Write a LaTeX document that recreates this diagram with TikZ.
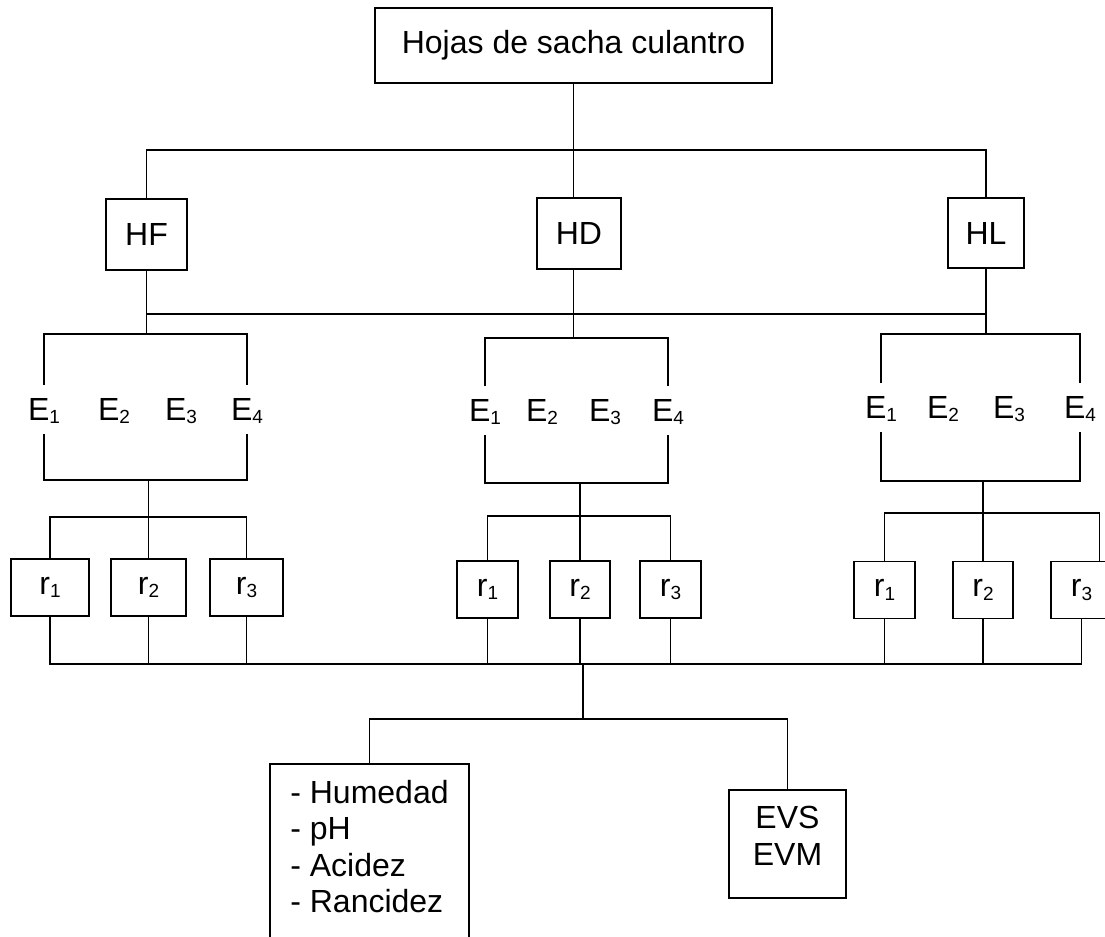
\documentclass[tikz,border=0pt]{standalone}
\usepackage{fontspec}
\setmainfont{Liberation Sans}
\newcommand{\subi}[1]{\raisebox{-1.7pt}{\fontsize{9.5}{9.5}\selectfont #1}}

\begin{document}
\begin{tikzpicture}[x=0.5pt,y=-0.5pt,line width=0.9pt,
  font=\fontsize{16}{18.3}\selectfont,
  caja/.style={draw, inner sep=2pt},
  etiq/.style={inner sep=0pt, text height=12pt, text depth=4pt, anchor=base},
  rcaja/.style={draw, inner sep=1pt, minimum height=28.5pt}]
\useasboundingbox (0,0) rectangle (1105,937);
\clip (0,0) rectangle (1105,937);

% hojas y tratamientos
\node [caja, minimum width=198.5pt, minimum height=37.5pt] (hojas) at (573.5,45.5) {Hojas de sacha culantro};
\node [caja, minimum width=40.5pt, minimum height=35.5pt] (HF) at (146.5,234.5) {HF};
\node [caja, minimum width=42pt, minimum height=35.5pt] (HD) at (579,233.5) {HD};
\node [caja, minimum width=38pt, minimum height=35pt] (HL) at (986,233) {HL};

\coordinate (t1) at (hojas.south |- 0,150);
\coordinate (t2) at (t1 |- 0,314);
\draw (hojas.south) -- (t1);
\draw (HF.north) |- (t1) -| (HL.north);
\draw (t1) -- (t1 |- HD.north);
\draw (HF.south) |- (t2) -| (HL.south);
\draw (t2) -- (t2 |- HD.south);

% estratos
\node [etiq] (FE1) at (44,420) {E\subi{1}};
\node [etiq] (FE2) at (114,420) {E\subi{2}};
\node [etiq] (FE3) at (181,420) {E\subi{3}};
\node [etiq] (FE4) at (247,420) {E\subi{4}};
\node [etiq] (ME1) at (485,421) {E\subi{1}};
\node [etiq] (ME2) at (542,421) {E\subi{2}};
\node [etiq] (ME3) at (605,421) {E\subi{3}};
\node [etiq] (ME4) at (668,421) {E\subi{4}};
\node [etiq] (LE1) at (881,418) {E\subi{1}};
\node [etiq] (LE2) at (943,418) {E\subi{2}};
\node [etiq] (LE3) at (1009,418) {E\subi{3}};
\node [etiq] (LE4) at (1080,418) {E\subi{4}};

% repeticiones
\node [rcaja, minimum width=39pt] (Fr1) at (50,587.5) {r\subi{1}};
\node [rcaja, minimum width=37.5pt] (Fr2) at (148.5,587.5) {r\subi{2}};
\node [rcaja, minimum width=36.5pt] (Fr3) at (246.5,587.5) {r\subi{3}};
\node [rcaja, minimum width=30.5pt] (Mr1) at (487.5,589.5) {r\subi{1}};
\node [rcaja, minimum width=30pt] (Mr2) at (580,589.5) {r\subi{2}};
\node [rcaja, minimum width=30.5pt] (Mr3) at (670.5,589.5) {r\subi{3}};
\node [rcaja, minimum width=30.5pt] (Lr1) at (884.5,590) {r\subi{1}};
\node [rcaja, minimum width=30pt] (Lr2) at (983,590) {r\subi{2}};
\node [rcaja, minimum width=30.5pt] (Lr3) at (1081.5,590) {r\subi{3}};

% llaves HF
\coordinate (Fa) at (HF.south |- 0,334);
\coordinate (Fb) at (Fr2.north |- 0,480);
\draw (HF.south) -- (Fa);
\draw ([yshift=5pt]FE1.north) |- (Fa) -| ([yshift=5pt]FE4.north);
\draw ([yshift=-2.5pt]FE1.south) |- (Fb) -| ([yshift=-2.5pt]FE4.south);
\draw (Fb) -- (Fr2.north);
\draw (Fr1.north) |- (Fr2.north |- 0,517) -| (Fr3.north);

% llaves HD
\coordinate (Ma) at (t2 |- 0,338);
\coordinate (Mb) at (Mr2.north |- 0,483);
\draw (t2) -- (Ma);
\draw ([yshift=5pt]ME1.north) |- (Ma) -| ([yshift=5pt]ME4.north);
\draw ([yshift=-2.5pt]ME1.south) |- (Mb) -| ([yshift=-2.5pt]ME4.south);
\draw (Mb) -- (Mr2.north);
\draw (Mr1.north) |- (Mr2.north |- 0,516) -| (Mr3.north);

% llaves HL
\coordinate (La) at (HL.south |- 0,334);
\coordinate (Lb) at (Lr2.north |- 0,481);
\draw (HL.south) -- (La);
\draw ([yshift=5pt]LE1.north) |- (La) -| ([yshift=5pt]LE4.north);
\draw ([yshift=-2.5pt]LE1.south) |- (Lb) -| ([yshift=-2.5pt]LE4.south);
\draw (Lb) -- (Lr2.north);
\draw (Lr1.north) |- (Lr2.north |- 0,513) -| ([xshift=9pt]Lr3.north);

% analisis
\coordinate (bus) at (583,664);
\coordinate (c) at (583,719);
\draw (Fr1.south) |- (bus) -| (Lr3.south);
\foreach \r in {Fr2,Fr3,Mr1,Mr2,Mr3,Lr1,Lr2}
  \draw (\r.south) -- (\r.south |- bus);
\draw (bus) -- (c);
\node [caja, anchor=north, minimum width=99.5pt, align=left, inner sep=8pt, text depth=120pt] (lista) at (369.5,763) {- Humedad\\- pH\\- Acidez\\- Rancidez};
\node [caja, minimum width=58.5pt, minimum height=54pt, align=center, text depth=8pt] (evs) at (787.5,844) {EVS\\EVM};
\draw (lista.north) |- (c) -| (evs.north);

\end{tikzpicture}
\end{document}
